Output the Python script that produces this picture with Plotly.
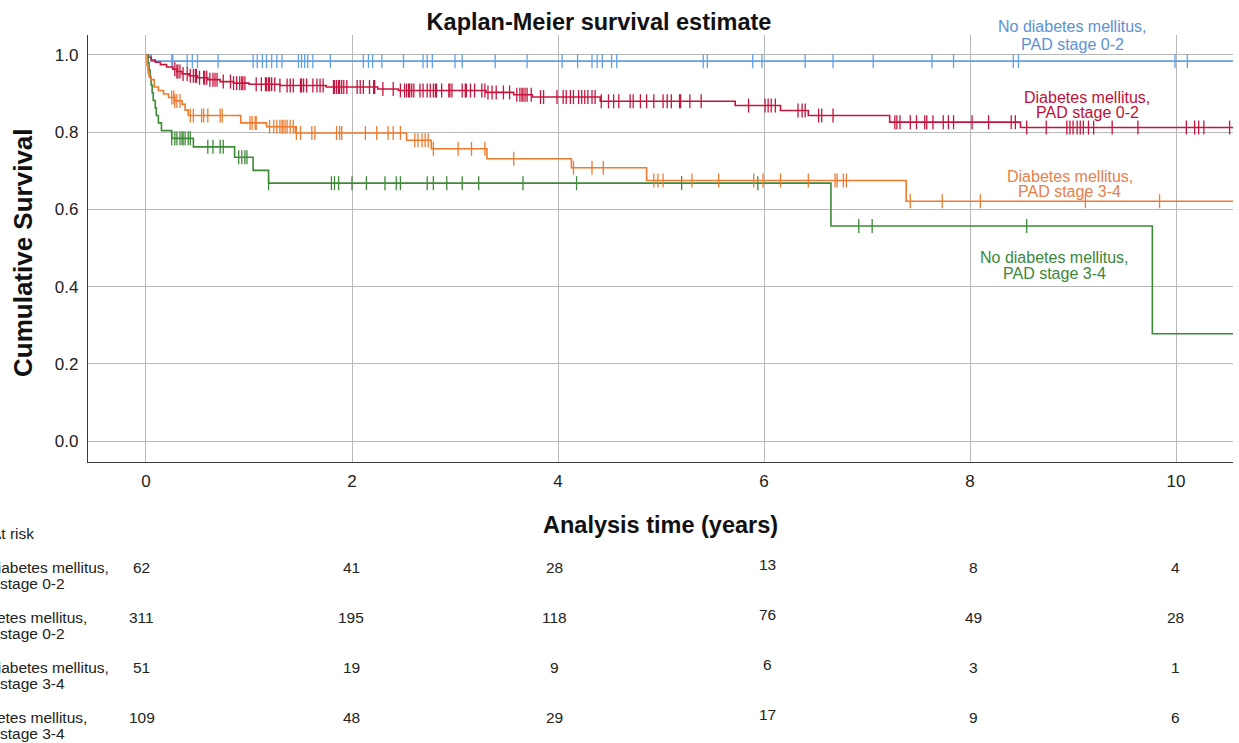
import bisect
import plotly.graph_objects as go

# ---------------- data ----------------
group_names = [
    ["No diabetes mellitus,", "PAD stage 0-2"],
    ["Diabetes mellitus,", "PAD stage 0-2"],
    ["No diabetes mellitus,", "PAD stage 3-4"],
    ["Diabetes mellitus,", "PAD stage 3-4"],
]
line_colors = ["#62a0e6", "#c8143f", "#3d8b37", "#f07b2e"]
label_colors = ["#5b92d6", "#c0103a", "#3a873a", "#e8804a"]

# event (death) times and survival after each step
blue_event_t = [0.05]
blue_surv = [0.984]
red_event_t = [0.02, 0.05, 0.09, 0.14, 0.20, 0.26, 0.30, 0.35, 0.42, 0.50, 0.60, 0.72, 0.85,
               1.00, 1.30, 1.75, 2.25, 2.45, 3.30, 3.57, 3.75, 4.41, 5.72, 6.16, 6.43, 7.22, 8.49]
red_surv = [0.994, 0.987, 0.981, 0.975, 0.969, 0.963, 0.957, 0.951, 0.946, 0.941, 0.936, 0.931, 0.927,
            0.924, 0.921, 0.917, 0.912, 0.908, 0.903, 0.897, 0.891, 0.880, 0.869, 0.856, 0.843, 0.826, 0.812]
green_event_t = [0.02, 0.03, 0.04, 0.05, 0.06, 0.07, 0.09, 0.10, 0.12, 0.15, 0.25, 0.46, 0.86, 1.04, 1.19, 6.65, 9.77]
green_surv = [0.980, 0.961, 0.941, 0.922, 0.902, 0.882, 0.863, 0.843, 0.824, 0.804, 0.784, 0.762, 0.735,
              0.701, 0.668, 0.557, 0.278]
orange_event_t = [0.01, 0.02, 0.03, 0.05, 0.08, 0.12, 0.17, 0.22, 0.28, 0.35, 0.38, 0.41, 0.92, 1.17, 1.45,
                  2.53, 2.77, 3.31, 4.13, 4.86, 7.38]
orange_surv = [0.972, 0.954, 0.945, 0.936, 0.917, 0.908, 0.899, 0.890, 0.881, 0.872, 0.857, 0.843, 0.824,
               0.814, 0.798, 0.779, 0.757, 0.731, 0.708, 0.675, 0.621]
last_followup = [10.6, 10.6, 10.6, 10.6]

# censored times
blue_cens = [0.25, 0.26, 0.40, 0.45, 0.50, 0.70, 1.04, 1.08, 1.13, 1.17, 1.22, 1.27, 1.32, 1.48, 1.51, 1.54,
             1.57, 1.62, 1.79, 2.11, 2.16, 2.20, 2.29, 2.50, 2.69, 2.73, 2.78, 3.00, 3.07, 3.39, 3.70, 4.04,
             4.19, 4.33, 4.38, 4.43, 4.52, 4.57, 5.41, 5.45, 5.89, 5.98, 6.40, 6.67, 7.06, 7.63, 7.84, 8.42,
             8.47, 9.99, 10.11]
red_cens = [0.28, 0.30, 0.31, 0.33, 0.36, 0.40, 0.43, 0.46, 0.48, 0.49, 0.52, 0.56, 0.57, 0.59, 0.62, 0.65,
            0.67, 0.69, 0.75, 0.82, 0.85, 0.88, 0.91, 0.93, 0.94, 0.96, 1.07, 1.12, 1.16, 1.17, 1.19, 1.20,
            1.22, 1.25, 1.30, 1.37, 1.40, 1.43, 1.50, 1.51, 1.53, 1.56, 1.62, 1.66, 1.69, 1.72, 1.82, 1.83,
            1.85, 1.87, 1.88, 1.90, 1.92, 1.95, 2.05, 2.08, 2.11, 2.17, 2.21, 2.22, 2.30, 2.40, 2.47, 2.51,
            2.53, 2.55, 2.56, 2.58, 2.60, 2.66, 2.69, 2.73, 2.76, 2.79, 2.81, 2.82, 2.87, 2.94, 2.95, 2.97,
            3.07, 3.10, 3.11, 3.15, 3.19, 3.26, 3.29, 3.32, 3.36, 3.40, 3.47, 3.53, 3.60, 3.63, 3.65, 3.66,
            3.68, 3.70, 3.74, 3.83, 3.86, 3.99, 4.05, 4.08, 4.12, 4.15, 4.20, 4.23, 4.26, 4.29, 4.33, 4.36,
            4.42, 4.49, 4.54, 4.59, 4.70, 4.73, 4.80, 4.86, 4.93, 5.02, 5.06, 5.10, 5.18, 5.19, 5.28, 5.39,
            5.85, 6.01, 6.04, 6.07, 6.11, 6.33, 6.37, 6.40, 6.53, 6.56, 6.67, 7.27, 7.29, 7.32, 7.42, 7.48,
            7.56, 7.58, 7.64, 7.74, 7.79, 7.84, 8.02, 8.18, 8.40, 8.44, 8.55, 8.74, 8.94, 8.97, 9.00, 9.04,
            9.07, 9.10, 9.15, 9.20, 9.38, 9.63, 10.10, 10.18, 10.22, 10.27, 10.52]
green_cens = [0.25, 0.28, 0.30, 0.33, 0.35, 0.36, 0.38, 0.41, 0.43, 0.60, 0.65, 0.72, 0.75, 0.90, 0.93,
              0.96, 0.98, 1.19, 1.80, 1.83, 1.87, 2.00, 2.14, 2.32, 2.43, 2.47, 2.73, 2.79, 2.92, 3.07,
              3.23, 3.66, 4.18, 5.20, 5.94, 6.92, 7.05, 8.55]
orange_cens = [0.25, 0.27, 0.28, 0.30, 0.33, 0.43, 0.46, 0.54, 0.56, 0.60, 0.72, 0.74, 1.01, 1.03, 1.06,
               1.07, 1.20, 1.24, 1.27, 1.30, 1.32, 1.33, 1.35, 1.37, 1.40, 1.43, 1.46, 1.50, 1.61, 1.64,
               1.85, 1.88, 1.90, 2.13, 2.24, 2.35, 2.40, 2.47, 2.61, 2.64, 2.68, 2.71, 2.74, 2.79, 3.03,
               3.16, 3.29, 3.57, 4.15, 4.33, 4.44, 4.93, 4.97, 5.02, 5.30, 5.56, 5.90, 5.99, 6.16, 6.43,
               6.71, 6.80, 6.69, 6.77, 7.42, 7.73, 8.10, 9.12, 9.84]

# number at risk table
risk_times = [0, 2, 4, 6, 8, 10]
risk_no_dm_02 = [62, 41, 28, 13, 8, 4]
risk_dm_02 = [311, 195, 118, 76, 49, 28]
risk_no_dm_34 = [51, 19, 9, 6, 3, 1]
risk_dm_34 = [109, 48, 29, 17, 9, 6]

x_ticks = [0, 2, 4, 6, 8, 10]
y_ticks = [0.0, 0.2, 0.4, 0.6, 0.8, 1.0]

# ---------------- figure ----------------
W, H = 1239, 743
ML, MR, MT, MB = 88, 6, 35, 281
PW, PH = W - ML - MR, H - MT - MB
FONT = 'Arial, "Liberation Sans", sans-serif'


def px_to_paper_x(px):
    return (px - ML) / PW


def px_to_paper_y(py):
    return (H - MB - py) / PH


def surv_at(t, ev_t, surv):
    i = bisect.bisect_right(ev_t, t)
    return 1.0 if i == 0 else surv[i - 1]


series = [
    (blue_event_t, blue_surv, blue_cens),
    (red_event_t, red_surv, red_cens),
    (green_event_t, green_surv, green_cens),
    (orange_event_t, orange_surv, orange_cens),
]

fig = go.Figure()
for k, (ev_t, surv, cens) in enumerate(series):
    xs = [0.0] + list(ev_t) + [last_followup[k]]
    ys = [1.0] + list(surv) + [surv[-1]]
    fig.add_trace(go.Scatter(x=xs, y=ys, mode="lines", line=dict(color=line_colors[k], width=1.6, shape="hv"),
                             hoverinfo="skip", showlegend=False))
    fig.add_trace(go.Scatter(x=cens, y=[surv_at(t, ev_t, surv) for t in cens], mode="markers",
                             marker=dict(symbol="line-ns", size=10, line=dict(color=line_colors[k], width=1.3)),
                             hoverinfo="skip", showlegend=False))

ann = []
# curve labels (two lines each): x in data units, line rows in pixels
label_pos = [(8.99, 27, 44), (9.14, 97, 113), (8.82, 257, 273), (8.97, 176, 192)]
for k, (lx, py1, py2) in enumerate(label_pos):
    for txt, py in zip(group_names[k], (py1, py2)):
        ann.append(dict(x=lx, y=px_to_paper_y(py), xref="x", yref="paper", text=txt, showarrow=False,
                        xanchor="center", yanchor="middle",
                        font=dict(size=16, color=label_colors[k], family=FONT)))

# axis titles
ann.append(dict(x=px_to_paper_x(23), y=px_to_paper_y(253), xref="paper", yref="paper", text="<b>Cumulative Survival</b>",
                textangle=-90, showarrow=False, xanchor="center", yanchor="middle",
                font=dict(size=26, color="#111", family=FONT)))
ann.append(dict(x=0.5, y=px_to_paper_y(525), xref="paper", yref="paper", text="<b>Analysis time (years)</b>",
                showarrow=False, xanchor="center", yanchor="middle", font=dict(size=23.5, color="#111", family=FONT)))

# risk table
ann.append(dict(x=px_to_paper_x(-11), y=px_to_paper_y(533), xref="paper", yref="paper", text="At risk",
                showarrow=False, xanchor="left", yanchor="middle", font=dict(size=15.5, color="#222", family=FONT)))
risk_rows = [risk_no_dm_02, risk_dm_02, risk_no_dm_34, risk_dm_34]
row_py = [567, 617, 667, 717]
col_dx = [-4, -1, -4, 3, 3, -1]   # small pixel nudges of the table columns
col_dy = [0, 0, 0, -3, 0, 0]
for r, vals in enumerate(risk_rows):
    py = row_py[r]
    for j, txt in enumerate(group_names[r]):
        ann.append(dict(x=px_to_paper_x(-37), y=px_to_paper_y(py + 16 * j), xref="paper", yref="paper", text=txt,
                        showarrow=False, xanchor="left", yanchor="middle",
                        font=dict(size=15.5, color="#222", family=FONT)))
    for c, (t, v) in enumerate(zip(risk_times, vals)):
        ann.append(dict(x=t, y=px_to_paper_y(py + col_dy[c]), xref="x", yref="paper", text=str(v), showarrow=False,
                        xanchor="center", yanchor="middle", xshift=col_dx[c],
                        font=dict(size=15.5, color="#222", family=FONT)))

fig.update_layout(
    width=W, height=H,
    margin=dict(l=ML, r=MR, t=MT, b=MB),
    plot_bgcolor="white", paper_bgcolor="white",
    showlegend=False,
    font=dict(family=FONT, size=17, color="#222"),
    title=dict(text="<b>Kaplan-Meier survival estimate</b>", x=599 / W, xref="container", xanchor="center",
               y=1 - 22 / H, yref="container", yanchor="middle", font=dict(size=23.5, color="#111", family=FONT)),
    annotations=ann,
)
fig.update_xaxes(range=[-0.563, 10.553], tickvals=x_ticks, ticktext=[str(v) for v in x_ticks],
                 showgrid=True, gridcolor="#b8b8b8", gridwidth=1, zeroline=False,
                 showline=True, linecolor="#3a3a3a", linewidth=1.4,
                 ticks="outside", ticklen=3, tickcolor="rgba(0,0,0,0)", tickfont=dict(size=17, color="#222"))
fig.update_yaxes(range=[-0.0543, 1.0517], tickvals=y_ticks, ticktext=[f"{v:.1f}" for v in y_ticks],
                 showgrid=True, gridcolor="#b8b8b8", gridwidth=1, zeroline=False,
                 showline=True, linecolor="#3a3a3a", linewidth=1.4,
                 ticks="outside", ticklen=5, tickcolor="rgba(0,0,0,0)", tickfont=dict(size=17, color="#222"))

fig.write_html("out.html")
